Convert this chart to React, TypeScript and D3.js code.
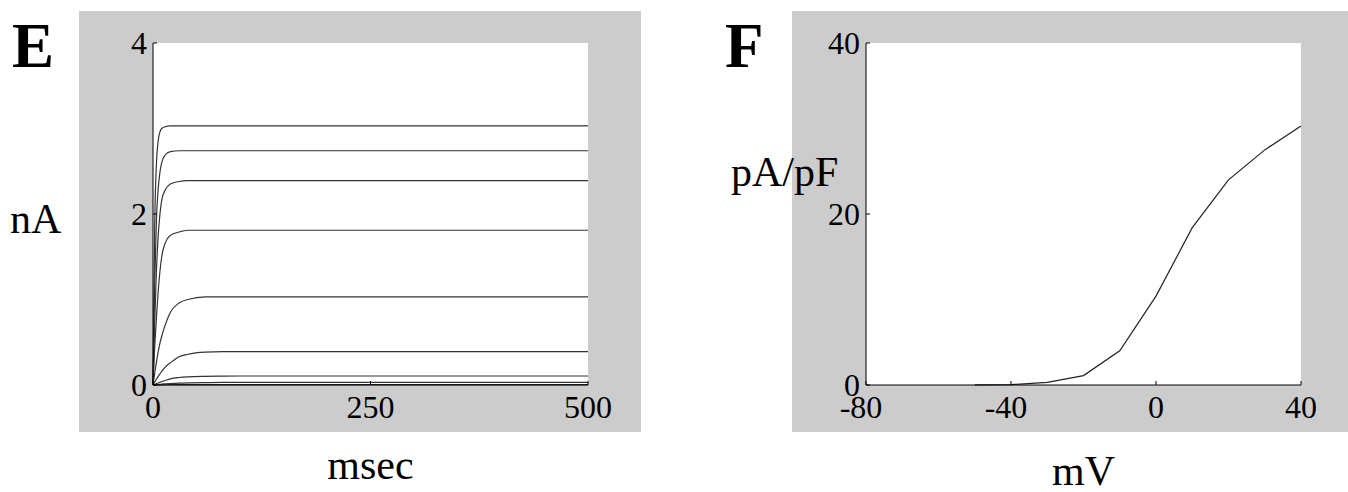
import React from "react";
import * as d3 from "d3";

// ---------- Panel E data (current traces, nA vs msec) ----------
const timeMs = [0, 2, 4, 6, 8, 10, 14, 20, 30, 40, 60, 80, 100, 150, 250, 500];
const traceA = [0, 1.9, 2.6, 2.86, 2.96, 3.0, 3.02, 3.03, 3.03, 3.03, 3.03, 3.03, 3.03, 3.03, 3.03, 3.03];
const traceB = [0, 1.2, 1.95, 2.3, 2.49, 2.6, 2.69, 2.73, 2.74, 2.74, 2.74, 2.74, 2.74, 2.74, 2.74, 2.74];
const traceC = [0, 0.75, 1.35, 1.75, 2.0, 2.16, 2.28, 2.35, 2.38, 2.39, 2.39, 2.39, 2.39, 2.39, 2.39, 2.39];
const traceD = [0, 0.45, 0.8, 1.1, 1.33, 1.5, 1.66, 1.75, 1.79, 1.81, 1.81, 1.81, 1.81, 1.81, 1.81, 1.81];
const traceE = [0, 0.14, 0.27, 0.39, 0.49, 0.57, 0.7, 0.85, 0.96, 1.0, 1.03, 1.03, 1.03, 1.03, 1.03, 1.03];
const traceF = [0, 0.035, 0.07, 0.1, 0.13, 0.16, 0.21, 0.26, 0.33, 0.36, 0.385, 0.39, 0.39, 0.39, 0.39, 0.39];
const traceG = [0, 0.008, 0.016, 0.024, 0.032, 0.04, 0.053, 0.072, 0.088, 0.096, 0.102, 0.104, 0.105, 0.105, 0.105, 0.105];
const traceH = [0, 0.002, 0.004, 0.006, 0.008, 0.01, 0.013, 0.017, 0.022, 0.025, 0.028, 0.03, 0.03, 0.03, 0.03, 0.03];
const traceI = [0, 0.0005, 0.001, 0.0015, 0.002, 0.0025, 0.003, 0.0035, 0.004, 0.0045, 0.005, 0.005, 0.005, 0.005, 0.005, 0.005];
const traces = [traceA, traceB, traceC, traceD, traceE, traceF, traceG, traceH, traceI];
const eXTicks = [0, 250, 500];
const eYTicks = [0, 2, 4];

// ---------- Panel F data (I-V, pA/pF vs mV) ----------
const voltageMv = [-50, -40, -30, -20, -10, 0, 10, 20, 30, 40];
const currentDensity = [0.02, 0.05, 0.3, 1.1, 4.0, 10.4, 18.4, 24.0, 27.5, 30.3];
const fXTicks = [-80, -40, 0, 40];
const fYTicks = [0, 20, 40];

const FONT = "'Liberation Serif', 'Times New Roman', serif";

type PanelProps = {
  ox: number;
  letter: string;
  xDomain: [number, number];
  yDomain: [number, number];
  xTicks: number[];
  yTicks: number[];
  yLabel: string;
  yLabelX: number;
  yLabelY: number;
  xLabel: string;
  xLabelY: number;
  children: (x: d3.ScaleLinear<number, number>, y: d3.ScaleLinear<number, number>) => React.ReactNode;
};

const Panel = (p: PanelProps) => {
  const left = p.ox + 74;
  const right = left + 435;
  const top = 43;
  const bottom = 385;
  const x = d3.scaleLinear().domain(p.xDomain).range([left, right]);
  const y = d3.scaleLinear().domain(p.yDomain).range([bottom, top]);
  return (
    <g>
      <rect x={p.ox} y={11} width={562} height={421} fill="#cccccc" />
      <rect x={left} y={top} width={right - left} height={bottom - top} fill="#ffffff" />
      <text x={p.ox - 67} y={67} fontFamily={FONT} fontWeight="bold" fontSize={63} fill="#000">
        {p.letter}
      </text>
      {p.children(x, y)}
      <line x1={left} x2={left} y1={top} y2={bottom} stroke="#000" strokeWidth={1} />
      <line x1={left} x2={right} y1={bottom} y2={bottom} stroke="#000" strokeWidth={1} />
      {p.yTicks.map((t) => (
        <g key={"y" + t}>
          <line x1={left} x2={left + 4} y1={y(t)} y2={y(t)} stroke="#000" />
          <text x={left - 6} y={y(t) + 11} textAnchor="end" fontFamily={FONT} fontSize={32} fill="#000">
            {t}
          </text>
        </g>
      ))}
      {p.xTicks.map((t) => (
        <g key={"x" + t}>
          <line x1={x(t)} x2={x(t)} y1={bottom} y2={bottom - 4} stroke="#000" />
          <text x={x(t) - (t < 0 ? 5 : 0)} y={418} textAnchor="middle" fontFamily={FONT} fontSize={32} fill="#000">
            {t}
          </text>
        </g>
      ))}
      <text x={p.yLabelX} y={p.yLabelY} fontFamily={FONT} fontSize={42} fill="#000">
        {p.yLabel}
      </text>
      <text x={(left + right) / 2} y={p.xLabelY} textAnchor="middle" fontFamily={FONT} fontSize={42} fill="#000">
        {p.xLabel}
      </text>
    </g>
  );
};

export default function App() {
  return (
    <svg
      width={1348}
      height={492}
      style={{ position: "absolute", left: 0, top: 0, background: "#fff" }}
    >
      <rect width={1348} height={492} fill="#fff" />
      <Panel
        ox={79}
        letter="E"
        xDomain={[0, 500]}
        yDomain={[0, 4]}
        xTicks={eXTicks}
        yTicks={eYTicks}
        yLabel="nA"
        yLabelX={10}
        yLabelY={233}
        xLabel="msec"
        xLabelY={479}
      >
        {(x, y) => {
          const line = d3
            .line<number>()
            .x((_, i) => x(timeMs[i]))
            .y((d) => y(d))
            .curve(d3.curveMonotoneX);
          return traces.map((tr, k) => (
            <path key={k} d={line(tr) || ""} fill="none" stroke="#333" strokeWidth={1.2} />
          ));
        }}
      </Panel>
      <Panel
        ox={792}
        letter="F"
        xDomain={[-80, 40]}
        yDomain={[0, 40]}
        xTicks={fXTicks}
        yTicks={fYTicks}
        yLabel="pA/pF"
        yLabelX={731}
        yLabelY={186}
        xLabel="mV"
        xLabelY={485}
      >
        {(x, y) => {
          const line = d3
            .line<number>()
            .x((_, i) => x(voltageMv[i]))
            .y((d) => y(d));
          return <path d={line(currentDensity) || ""} fill="none" stroke="#222" strokeWidth={1.2} />;
        }}
      </Panel>
    </svg>
  );
}
